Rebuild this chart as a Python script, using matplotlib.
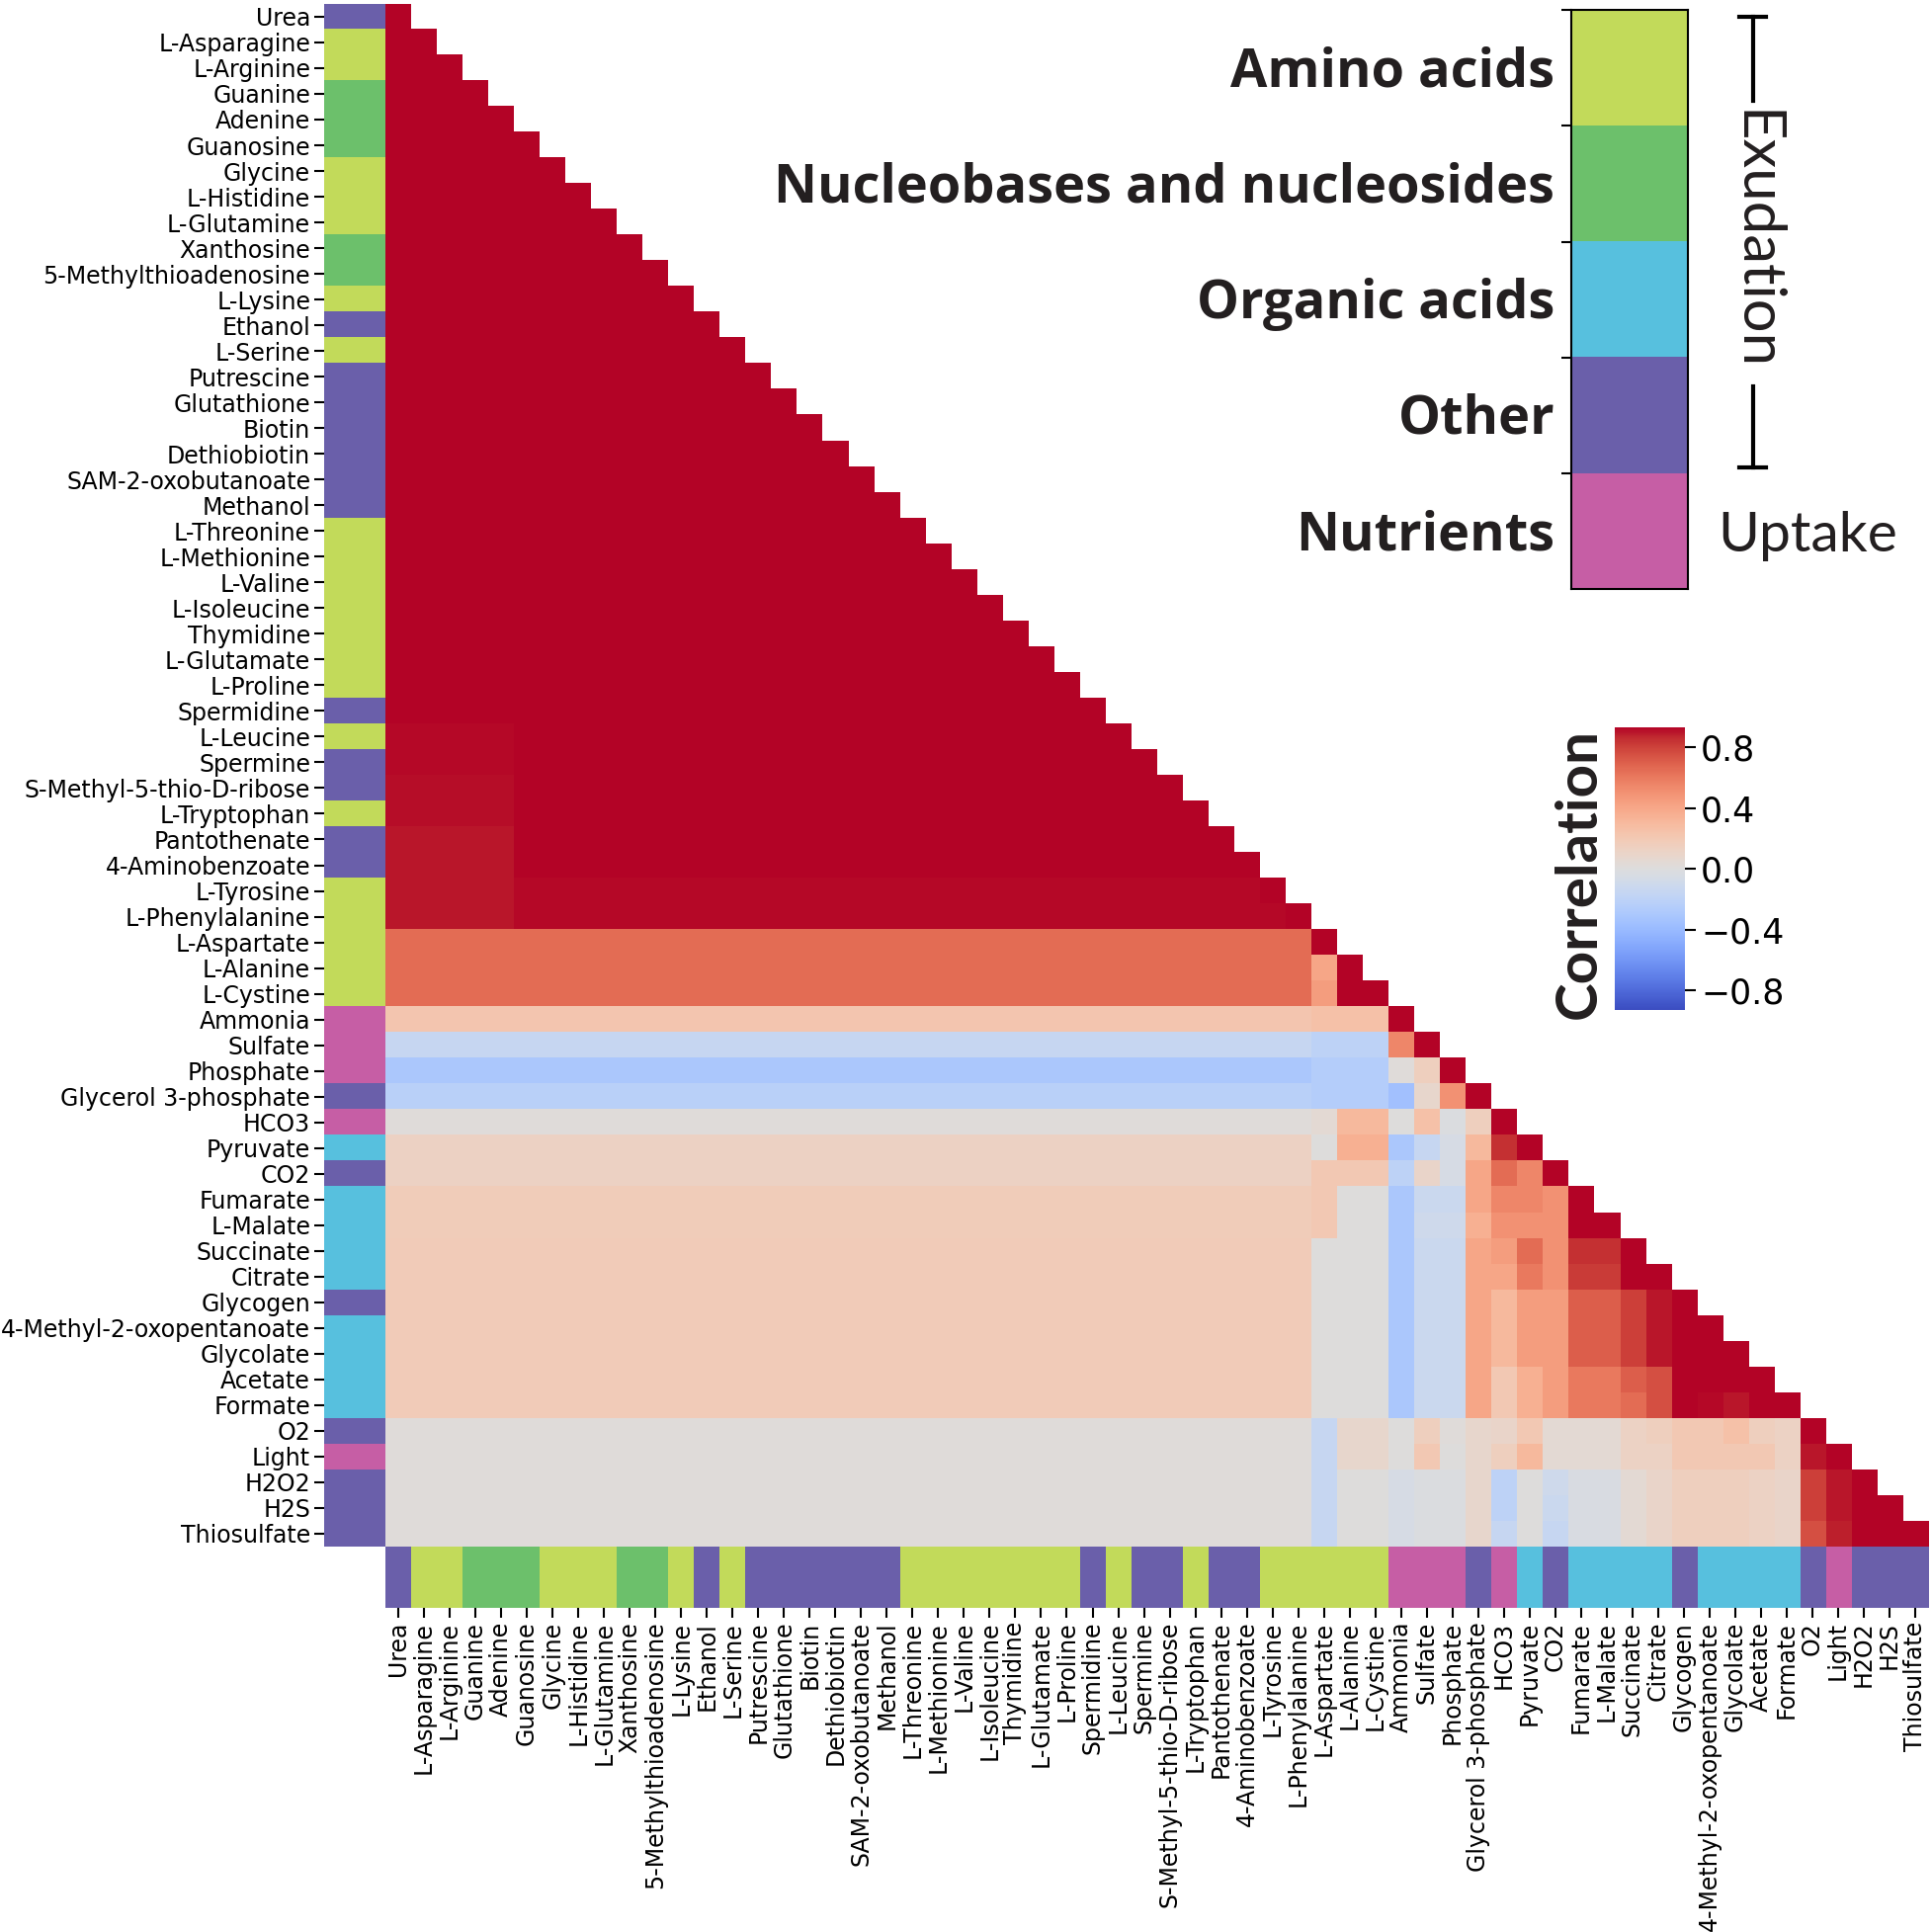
import numpy as np
import matplotlib.pyplot as plt
from matplotlib.colors import ListedColormap
from matplotlib.lines import Line2D
import matplotlib.transforms as mtransforms

names = ['Urea', 'L-Asparagine', 'L-Arginine', 'Guanine', 'Adenine', 'Guanosine', 'Glycine',
         'L-Histidine', 'L-Glutamine', 'Xanthosine', '5-Methylthioadenosine', 'L-Lysine', 'Ethanol',
         'L-Serine', 'Putrescine', 'Glutathione', 'Biotin', 'Dethiobiotin', 'SAM-2-oxobutanoate',
         'Methanol', 'L-Threonine', 'L-Methionine', 'L-Valine', 'L-Isoleucine', 'Thymidine',
         'L-Glutamate', 'L-Proline', 'Spermidine', 'L-Leucine', 'Spermine', 'S-Methyl-5-thio-D-ribose',
         'L-Tryptophan', 'Pantothenate', '4-Aminobenzoate', 'L-Tyrosine', 'L-Phenylalanine',
         'L-Aspartate', 'L-Alanine', 'L-Cystine', 'Ammonia', 'Sulfate', 'Phosphate',
         'Glycerol 3-phosphate', 'HCO3', 'Pyruvate', 'CO2', 'Fumarate', 'L-Malate', 'Succinate',
         'Citrate', 'Glycogen', '4-Methyl-2-oxopentanoate', 'Glycolate', 'Acetate', 'Formate',
         'O2', 'Light', 'H2O2', 'H2S', 'Thiosulfate']

# a = amino acid, n = nucleobase/nucleoside, o = organic acid, x = other, u = nutrient (uptake)
groups = ['x', 'a', 'a', 'n', 'n', 'n', 'a', 'a', 'a', 'n', 'n', 'a', 'x', 'a', 'x', 'x', 'x', 'x',
          'x', 'x', 'a', 'a', 'a', 'a', 'a', 'a', 'a', 'x', 'a', 'x', 'x', 'a', 'x', 'x', 'a', 'a',
          'a', 'a', 'a', 'u', 'u', 'u', 'x', 'u', 'o', 'x', 'o', 'o', 'o', 'o', 'x', 'o', 'o', 'o',
          'o', 'x', 'u', 'x', 'x', 'x']

group_keys = ['a', 'n', 'o', 'x', 'u']
group_labels = ['Amino acids', 'Nucleobases and nucleosides', 'Organic acids', 'Other', 'Nutrients']
group_colors = ['#c2da5a', '#6cc06b', '#57c0de', '#6a5faa', '#c65ea5']

# big exudate block (rows 1-36): value vs first 5 columns, value vs the rest
block_left = [0.97, 0.97, 0.97, 0.97, 0.97, 0.97, 0.97, 0.97, 0.97, 0.97, 0.97, 0.97,
              0.97, 0.96, 0.96, 0.96, 0.96, 0.96, 0.96, 0.96, 0.95, 0.95, 0.95, 0.95,
              0.94, 0.94, 0.94, 0.93, 0.92, 0.92, 0.91, 0.91, 0.9, 0.9, 0.9, 0.9]
block_right = [0.97, 0.97, 0.97, 0.97, 0.97, 0.97, 0.97, 0.97, 0.97, 0.97, 0.97, 0.97,
               0.97, 0.97, 0.97, 0.97, 0.97, 0.97, 0.97, 0.97, 0.96, 0.96, 0.96, 0.96,
               0.96, 0.96, 0.95, 0.95, 0.94, 0.94, 0.93, 0.93, 0.93, 0.93, 0.92, 0.92]

# rows 37-60 against the 36 block columns
tail_vs_block = [0.65, 0.65, 0.65, 0.22, -0.15, -0.3, -0.22, 0.02, 0.13, 0.13, 0.17, 0.17,
                 0.18, 0.18, 0.18, 0.18, 0.18, 0.18, 0.18, 0.02, 0.02, 0.02, 0.02, 0.02]

# rows 37-60 against columns 37 .. diagonal
tail_rows = [
    [1.0],
    [0.4, 1.0],
    [0.45, 0.95, 1.0],
    [0.25, 0.25, 0.25, 1.0],
    [-0.2, -0.2, -0.2, 0.55, 1.0],
    [-0.25, -0.25, -0.25, 0.02, 0.15, 1.0],
    [-0.25, -0.25, -0.25, -0.35, 0.08, 0.5, 1.0],
    [0.05, 0.3, 0.3, 0.0, 0.25, -0.02, 0.15, 1.0],
    [0.0, 0.35, 0.35, -0.3, -0.15, -0.05, 0.3, 0.85, 1.0],
    [0.2, 0.2, 0.2, -0.2, 0.1, -0.05, 0.4, 0.65, 0.55, 1.0],
    [0.2, 0.0, 0.0, -0.3, -0.12, -0.12, 0.4, 0.55, 0.55, 0.5, 1.0],
    [0.2, 0.0, 0.0, -0.3, -0.1, -0.1, 0.35, 0.5, 0.5, 0.5, 0.95, 1.0],
    [0.0, 0.0, 0.0, -0.3, -0.12, -0.12, 0.4, 0.45, 0.65, 0.5, 0.85, 0.85, 1.0],
    [0.0, 0.0, 0.0, -0.3, -0.12, -0.12, 0.4, 0.4, 0.6, 0.5, 0.82, 0.82, 0.95, 1.0],
    [0.0, 0.0, 0.0, -0.3, -0.12, -0.12, 0.4, 0.3, 0.45, 0.45, 0.7, 0.7, 0.8, 0.9, 1.0],
    [0.0, 0.0, 0.0, -0.3, -0.12, -0.12, 0.4, 0.3, 0.45, 0.45, 0.7, 0.7, 0.8, 0.9, 0.95, 1.0],
    [0.0, 0.0, 0.0, -0.3, -0.12, -0.12, 0.4, 0.3, 0.45, 0.45, 0.7, 0.7, 0.8, 0.9, 0.95, 0.95, 1.0],
    [0.0, 0.0, 0.0, -0.3, -0.12, -0.12, 0.4, 0.2, 0.35, 0.45, 0.6, 0.6, 0.7, 0.75, 0.95, 0.95,
     0.95, 1.0],
    [0.0, 0.0, 0.0, -0.3, -0.12, -0.12, 0.4, 0.2, 0.35, 0.45, 0.6, 0.6, 0.65, 0.75, 0.95, 0.92,
     0.9, 0.95, 1.0],
    [-0.15, 0.08, 0.08, 0.0, 0.15, 0.02, 0.08, 0.1, 0.2, 0.05, 0.05, 0.05, 0.12, 0.15, 0.2, 0.2,
     0.25, 0.15, 0.12, 1.0],
    [-0.15, 0.08, 0.08, 0.0, 0.2, 0.0, 0.08, 0.15, 0.3, 0.05, 0.05, 0.05, 0.12, 0.12, 0.2, 0.2,
     0.2, 0.2, 0.12, 0.9, 1.0],
    [-0.15, 0.0, 0.0, -0.05, -0.02, -0.02, 0.08, -0.2, 0.0, -0.1, -0.03, -0.03, 0.05, 0.1, 0.15,
     0.15, 0.15, 0.12, 0.1, 0.8, 0.9, 1.0],
    [-0.15, 0.0, 0.0, -0.05, -0.02, -0.02, 0.08, -0.2, 0.0, -0.12, -0.03, -0.03, 0.05, 0.1, 0.15,
     0.15, 0.15, 0.12, 0.1, 0.8, 0.9, 0.95, 1.0],
    [-0.15, 0.0, 0.0, -0.05, -0.02, -0.02, 0.08, -0.15, 0.0, -0.15, -0.03, -0.03, 0.05, 0.1, 0.15,
     0.15, 0.15, 0.12, 0.1, 0.75, 0.88, 0.95, 0.95, 1.0],
]

cbar_ticks = [0.8, 0.4, 0.0, -0.4, -0.8]

# build lower-triangle matrix
n = len(names)
nb = len(block_left)
corr = np.full((n, n), np.nan)
for i in range(nb):
    for j in range(i):
        corr[i, j] = block_left[i] if j < 5 else block_right[i]
    corr[i, i] = 1.0
for k in range(len(tail_rows)):
    i = nb + k
    corr[i, :nb] = tail_vs_block[k]
    corr[i, nb:i + 1] = tail_rows[k]

codes = np.array([group_keys.index(g) for g in groups])
group_cmap = ListedColormap(group_colors)

fig = plt.figure(figsize=(19.55, 19.55), dpi=100)

ax = fig.add_axes([0.1995, 0.1995, 0.7985, 0.7985])
im = ax.imshow(np.ma.masked_invalid(corr), cmap='coolwarm', vmin=-0.93, vmax=0.93,
               aspect='auto', interpolation='nearest')
ax.axis('off')

# row colors
axl = fig.add_axes([0.1678, 0.1995, 0.0317, 0.7985])
axl.imshow(codes[:, None], cmap=group_cmap, vmin=-0.5, vmax=4.5, aspect='auto',
           interpolation='nearest')
axl.set_xticks([])
axl.set_yticks(range(n))
axl.set_yticklabels(names, fontsize=17)
axl.tick_params(axis='y', length=7, width=1.5, pad=3)
for s in axl.spines.values():
    s.set_visible(False)

# column colors
axb = fig.add_axes([0.1995, 0.1678, 0.7985, 0.0317])
axb.imshow(codes[None, :], cmap=group_cmap, vmin=-0.5, vmax=4.5, aspect='auto',
           interpolation='nearest')
axb.set_yticks([])
axb.set_xticks(range(n))
axb.set_xticklabels(names, rotation=90, fontsize=17)
axb.tick_params(axis='x', length=7, width=1.5, pad=3)
for s in axb.spines.values():
    s.set_visible(False)

# category legend
axg = fig.add_axes([0.8133, 0.6951, 0.0604, 0.2997])
axg.imshow(np.arange(5)[:, None], cmap=group_cmap, vmin=-0.5, vmax=4.5, aspect='auto',
           interpolation='nearest')
axg.set_xticks([])
axg.set_yticks([-0.5, 0.5, 1.5, 2.5, 3.5])
axg.set_yticklabels([])
axg.tick_params(axis='y', length=7, width=1.5)
for s in axg.spines.values():
    s.set_linewidth(1.5)
trans = mtransforms.blended_transform_factory(axg.transAxes, axg.transData)
for k, lab in enumerate(group_labels):
    axg.text(-0.14, k + 0.04, lab, transform=trans, ha='right', va='center', fontsize=39,
             fontweight='bold', family='Open Sans', color='#231f20')

# exudation bracket
bx = 0.9074
for y0, y1 in [(0.9913, 0.9478), (0.800, 0.758)]:
    fig.add_artist(Line2D([bx, bx], [y0, y1], color='black', lw=3, transform=fig.transFigure))
for y in [0.9913, 0.758]:
    fig.add_artist(Line2D([bx - 0.0069, bx + 0.0069], [y, y], color='black', lw=3,
                          transform=fig.transFigure))
fig.text(bx + 0.001, 0.8757, 'Exudation', rotation=270, ha='center', va='center', fontsize=43,
         family='Lato', color='#231f20')
fig.text(0.889, 0.7225, 'Uptake', ha='left', va='center', fontsize=41, family='Lato',
         color='#231f20')

# colorbar
cax = fig.add_axes([0.8358, 0.4772, 0.0363, 0.1463])
cb = fig.colorbar(im, cax=cax, ticks=cbar_ticks)
cb.outline.set_visible(False)
cax.tick_params(labelsize=25, length=8, width=1.5)
fig.text(0.8174, 0.5478, 'Correlation', rotation=90, ha='center', va='center', fontsize=42,
         fontweight='bold', family='Lato', color='#231f20')

fig.savefig('out.png', dpi=100)
